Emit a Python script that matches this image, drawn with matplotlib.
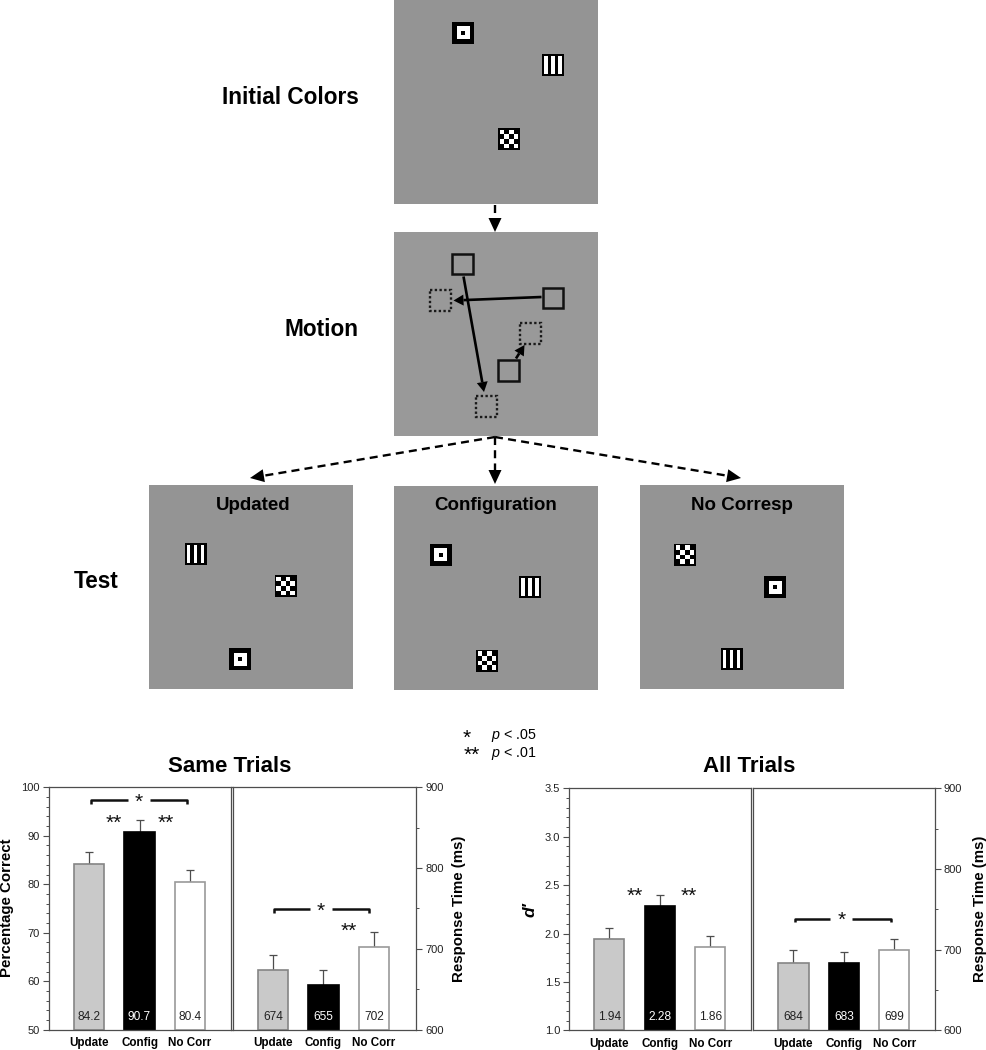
"""
Object-motion figure: schematic of the trial sequence plus the two results panels
"""
import matplotlib
matplotlib.use("Agg")
import matplotlib.pyplot as plt
from matplotlib.patches import Rectangle, Polygon
import numpy as np

plt.rcParams["font.family"] = ["Liberation Sans", "DejaVu Sans"]
plt.rcParams["mathtext.fontset"] = "custom"
plt.rcParams["mathtext.it"] = "Liberation Sans:italic"
plt.rcParams["mathtext.rm"] = "Liberation Sans"

W, H = 986, 1050

# Results
conditions = ["Update", "Config", "No Corr"]
same_pct = [84.2, 90.7, 80.4]
same_pct_err = [2.4, 2.5, 2.5]
same_rt = [674, 655, 702]
same_rt_err = [19, 18.5, 18.5]
all_d = [1.94, 2.28, 1.86]
all_d_err = [0.12, 0.115, 0.115]
all_rt = [684, 683, 699]
all_rt_err = [15, 14, 14.5]

pct_labels = ["84.2", "90.7", "80.4"]
d_labels = ["1.94", "2.28", "1.86"]
bar_colors = ["#c9c9c9", "#000000", "#ffffff"]
edge_colors = ["#858585", "#000000", "#9a9a9a"]

# Schematic layout, figure pixels
panel_boxes = [(394, 0, 204, 204), (393.5, 232, 204, 204), (149, 485, 204, 204),
               (393.5, 486, 204, 204), (639.5, 485, 204, 204)]
test_titles = [("Updated", 253.5, 505), ("Configuration", 495.5, 506), ("No Corresp", 742, 505)]
row_titles = [("Initial Colors", 290.5, 98), ("Motion", 321.5, 330), ("Test", 96, 582)]
ring_centres = [(463, 32.5), (240, 659), (440.5, 554.5), (775, 587)]
bars_centres = [(553, 64.5), (195.5, 553.5), (530, 587), (731.5, 659)]
check_centres = [(509, 139), (285.5, 586), (487, 660.5), (685, 554.5)]
solid_squares = [(452, 253.5), (542.5, 287.5), (498, 360)]
dotted_squares = [(430, 290), (519.5, 322.5), (475.5, 396)]
motion_arrows = [((463.5, 276.5), (484, 392)), ((541.5, 297), (453.5, 300.5)), ((516, 358.5), (524.5, 345))]
dash_arrows = [((495, 205), (495, 232)), ((495, 437), (250, 478)),
               ((495, 437), (495, 484)), ((495, 437), (741, 478))]

fig = plt.figure(figsize=(W / 100, H / 100), dpi=100, facecolor="white")

ov = fig.add_axes([0, 0, 1, 1])
ov.set_xlim(0, W)
ov.set_ylim(H, 0)
ov.axis("off")


def rect(x, y, w, h, color):
    ov.add_patch(Rectangle((x, y), w, h, facecolor=color, edgecolor="none", zorder=3))


def ring(cx, cy):
    rect(cx - 11, cy - 11, 22, 22, "black")
    rect(cx - 6.5, cy - 6.5, 13, 13, "white")
    rect(cx - 2, cy - 2, 4, 4, "black")


def stripes(cx, cy):
    rect(cx - 11, cy - 11, 22, 22, "black")
    for dx in (-8.8, -1.8, 5.2):
        rect(cx + dx, cy - 9, 3.6, 18, "white")


def checker(cx, cy):
    rect(cx - 11, cy - 11, 22, 22, "black")
    for i in range(4):
        for j in range(4):
            if (i + j) % 2 == 0:
                rect(cx - 9.2 + j * 4.6, cy - 9.2 + i * 4.6, 4.6, 4.6, "white")


def arrow(start, tip, lw, ls, length, width):
    start, tip = np.array(start, float), np.array(tip, float)
    d = (tip - start) / np.hypot(*(tip - start))
    n = np.array([-d[1], d[0]])
    base = tip - d * length
    ov.plot([start[0], base[0]], [start[1], base[1]], color="black", lw=lw, ls=ls,
            dash_capstyle="butt", solid_capstyle="butt", zorder=4)
    ov.add_patch(Polygon([tip, base + n * width / 2, base - n * width / 2],
                         facecolor="black", edgecolor="none", zorder=5))


for i, (x, y, w, h) in enumerate(panel_boxes):
    rect(x, y, w, h, "#999999" if i == 1 else "#949494")
for c in ring_centres:
    ring(*c)
for c in bars_centres:
    stripes(*c)
for c in check_centres:
    checker(*c)
for x, y in solid_squares:
    ov.add_patch(Rectangle((x, y), 20.5, 20.5, facecolor="none", edgecolor="#111111", lw=1.8, zorder=4))
for x, y in dotted_squares:
    ov.add_patch(Rectangle((x, y), 21, 21, facecolor="none", edgecolor="#1a1a1a", lw=1.7,
                           ls=(0, (1, 1)), zorder=4))
for a, b in motion_arrows:
    arrow(a, b, 1.9, "-", 10, 11)
for a, b in dash_arrows:
    arrow(a, b, 1.7, (0, (3.4, 2.2)), 14, 13)

for label, x, y in row_titles:
    ov.text(x, y, label, fontsize=16.3, fontweight="bold", ha="center", va="center")
for label, x, y in test_titles:
    ov.text(x, y, label, fontsize=13.5, fontweight="bold", ha="center", va="center", zorder=6)

ov.text(467, 738, "*", fontsize=15, ha="center", va="center")
ov.text(471.5, 755, "**", fontsize=15, ha="center", va="center")
ov.text(491, 736, r"$\mathit{p}$ < .05", fontsize=10.3, ha="left", va="center")
ov.text(491, 753, r"$\mathit{p}$ < .01", fontsize=10.3, ha="left", va="center")
ov.text(229.5, 766, "Same Trials", fontsize=16, fontweight="bold", ha="center", va="center")
ov.text(749, 766, "All Trials", fontsize=16, fontweight="bold", ha="center", va="center")


def chart_axes(left, right, top, bottom, xlim):
    ax = fig.add_axes([left / W, 1 - bottom / H, (right - left) / W, (bottom - top) / H])
    ax.set_xlim(*xlim)
    for s in ax.spines.values():
        s.set_color("#4d4d4d")
        s.set_linewidth(0.9)
    ax.tick_params(axis="x", length=0, pad=5.5)
    ax.set_xticks(range(3))
    ax.set_xticklabels(conditions, fontsize=8.4, fontweight="bold")
    ax.tick_params(axis="y", which="major", length=4, width=0.8, color="#4d4d4d", labelsize=8, labelcolor="#222222", pad=2.5)
    ax.tick_params(axis="y", which="minor", length=2.5, width=0.7, color="#4d4d4d")
    return ax


def draw_bars(ax, values, errs, labels, ymin):
    x = np.arange(3)
    ax.errorbar(x, values, yerr=[np.zeros(3), errs], fmt="none", ecolor="#4d4d4d",
                elinewidth=0.9, capsize=3, capthick=0.9, zorder=1)
    ax.bar(x, np.array(values) - ymin, width=0.6, bottom=ymin, color=bar_colors,
           edgecolor=edge_colors, linewidth=1.2, zorder=2)
    for xi, lab, col in zip(x, labels, ["#222222", "white", "#222222"]):
        ax.annotate(lab, (xi, ymin), xytext=(0, 9.5), textcoords="offset points",
                    fontsize=8.6, color=col, ha="center", va="center", zorder=3)


def stars(ax, x, y, text):
    # asterisks sit high in the em box, so anchor on the baseline
    ax.annotate(text, (x, y), xytext=(0, -5.5), textcoords="offset points", fontsize=15,
                ha="center", va="baseline", color="#111111", zorder=4)


def bracket(ax, x0, x1, y, drop, gap0, gap1):
    style = dict(color="#111111", lw=1.8, solid_capstyle="butt", solid_joinstyle="round", zorder=4)
    ax.plot([x0, x0, gap0], [y - drop, y, y], **style)
    ax.plot([gap1, x1, x1], [y, y, y - drop], **style)
    stars(ax, (gap0 + gap1) / 2, y, "*")


def rt_axes(ax, label_x):
    ax.set_ylim(600, 900)
    ax.set_yticks([600, 700, 800, 900])
    ax.set_yticks([650, 750, 850], minor=True)
    ax.yaxis.set_label_position("right")
    ax.yaxis.tick_right()
    ax.yaxis.set_ticks_position("right")
    ax.set_ylabel("Response Time (ms)", fontsize=10.8, fontweight="bold", rotation=90, va="center")
    ax.yaxis.set_label_coords(label_x, 0.5)


# Same Trials, accuracy
ax1 = chart_axes(48.5, 230.5, 787.3, 1029.7, (-0.8, 2.8))
ax1.set_ylim(50, 100)
ax1.set_yticks(range(50, 101, 10))
ax1.set_yticks(range(50, 101, 2), minor=True)
ax1.set_ylabel("Percentage Correct", fontsize=10.8, fontweight="bold", va="center")
ax1.yaxis.set_label_coords((7 - 48.5) / 182, 0.503)
draw_bars(ax1, same_pct, same_pct_err, pct_labels, 50)
bracket(ax1, 0.04, 1.93, 97.3, 0.75, 0.77, 1.2)
stars(ax1, 0.5, 93, "**")
stars(ax1, 1.52, 93, "**")

# Same Trials, RT
ax2 = chart_axes(232.5, 416, 787.3, 1029.7, (-0.8, 2.83))
rt_axes(ax2, (459.5 - 232.5) / 183.5)
draw_bars(ax2, same_rt, same_rt_err, same_rt, 600)
bracket(ax2, 0.02, 1.91, 749.5, 4.5, 0.73, 1.17)
stars(ax2, 1.5, 724, "**")

# All Trials, d'
ax3 = chart_axes(569.3, 750.7, 788.3, 1030.3, (-0.79, 2.8))
ax3.set_ylim(1.0, 3.5)
ax3.set_yticks(np.arange(1.0, 3.51, 0.5))
ax3.set_yticks(np.arange(1.0, 3.51, 0.1), minor=True)
ax3.set_yticklabels(["1.0", "1.5", "2.0", "2.5", "3.0", "3.5"])
ax3.set_ylabel("d′", fontsize=12.5, fontweight="bold", style="italic", va="center")
ax3.yaxis.set_label_coords((530 - 569.3) / 181.4, 0.5)
draw_bars(ax3, all_d, all_d_err, d_labels, 1.0)
stars(ax3, 0.5, 2.41, "**")
stars(ax3, 1.58, 2.41, "**")

# All Trials, RT
ax4 = chart_axes(753, 934.7, 788.3, 1030.3, (-0.8, 2.8))
rt_axes(ax4, (979.5 - 753) / 181.7)
draw_bars(ax4, all_rt, all_rt_err, all_rt, 600)
bracket(ax4, 0.03, 1.93, 738.5, 4, 0.73, 1.17)

fig.savefig("out.png", dpi=100)
